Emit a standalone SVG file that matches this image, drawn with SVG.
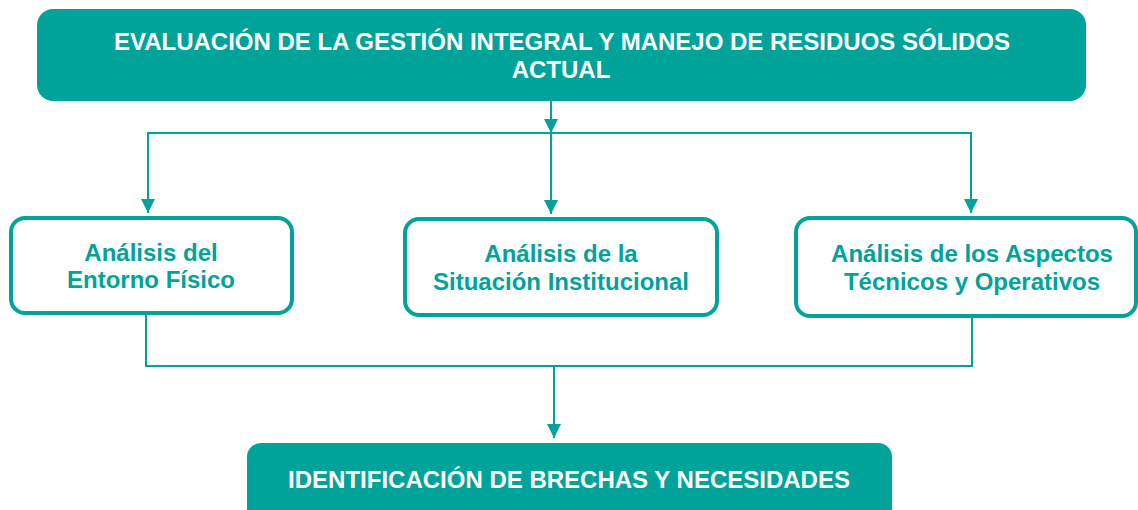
<svg xmlns="http://www.w3.org/2000/svg" width="1138" height="510" viewBox="0 0 1138 510">
<style>
.fill{fill:#00A399}
.box{fill:#fff;stroke:#00A399;stroke-width:4}
.w{font-family:"Liberation Sans",Arial,sans-serif;font-weight:bold;font-size:24px;fill:#fff;text-anchor:middle}
.g{font-family:"Liberation Sans",Arial,sans-serif;font-weight:bold;font-size:24px;fill:#00A399;text-anchor:middle}
.ln{fill:none;stroke:#00A399;stroke-width:2}
</style>
<defs>
<marker id="ah" markerWidth="15" markerHeight="14" refX="14" refY="7" orient="auto" markerUnits="userSpaceOnUse">
<path d="M0,0 L14,7 L0,14 Z" fill="#00A399"/>
</marker>
</defs>
<rect width="1138" height="510" fill="#fff"/>
<g id="connectors">
<line class="ln" x1="551" y1="101" x2="551" y2="133" marker-end="url(#ah)"/>
<line class="ln" x1="147" y1="133" x2="972" y2="133"/>
<line class="ln" x1="148" y1="133" x2="148" y2="213" marker-end="url(#ah)"/>
<line class="ln" x1="551" y1="133" x2="551" y2="214" marker-end="url(#ah)"/>
<line class="ln" x1="971" y1="133" x2="971" y2="213" marker-end="url(#ah)"/>
<polyline class="ln" points="146,314 146,366 972,366 972,318"/>
<line class="ln" x1="554" y1="366" x2="554" y2="438" marker-end="url(#ah)"/>
</g>
<g id="top">
<rect class="fill" x="37" y="9" width="1049" height="92" rx="16"/>
<text class="w" x="562" y="50">EVALUACIÓN DE LA GESTIÓN INTEGRAL Y MANEJO DE RESIDUOS SÓLIDOS</text>
<text class="w" x="561" y="78">ACTUAL</text>
</g>
<g id="entorno">
<rect class="box" x="11" y="218" width="281" height="95" rx="14"/>
<text class="g" x="151" y="261">Análisis del</text>
<text class="g" x="151" y="288">Entorno Físico</text>
</g>
<g id="institucional">
<rect class="box" x="405" y="219" width="312" height="96" rx="14"/>
<text class="g" x="561" y="262">Análisis de la</text>
<text class="g" x="561" y="290">Situación Institucional</text>
</g>
<g id="tecnicos">
<rect class="box" x="796" y="218" width="340" height="98" rx="14"/>
<text class="g" x="972" y="262">Análisis de los Aspectos</text>
<text class="g" x="972" y="290">Técnicos y Operativos</text>
</g>
<g id="brechas">
<rect class="fill" x="247" y="443" width="645" height="90" rx="14"/>
<text class="w" x="569" y="488">IDENTIFICACIÓN DE BRECHAS Y NECESIDADES</text>
</g>
</svg>
